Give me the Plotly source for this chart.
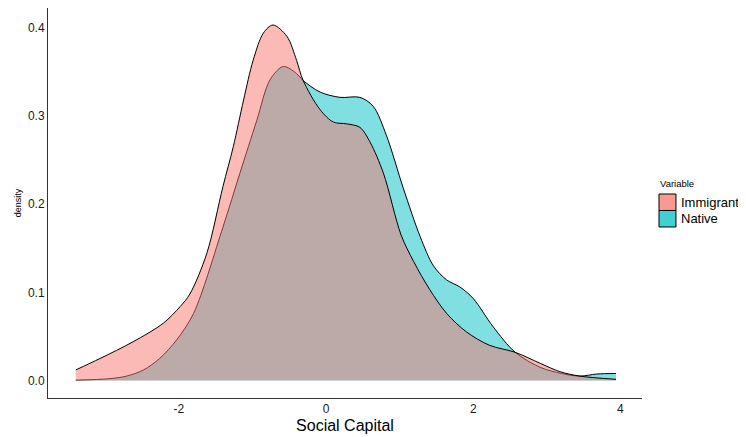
import plotly.graph_objects as go

# Density curves (Social Capital vs density)
imm_x = [-3.40, -3.07, -2.62, -2.21, -1.98, -1.85, -1.62, -1.40, -1.26, -1.12, -0.99,
         -0.85, -0.72, -0.53, -0.40, -0.31, -0.08, 0.10, 0.28, 0.46, 0.60, 0.78, 1.02,
         1.19, 1.41, 1.64, 1.91, 2.22, 2.57, 2.91, 3.18, 3.45, 3.94]
imm_y = [0.012, 0.025, 0.044, 0.065, 0.084, 0.098, 0.144, 0.220, 0.265, 0.318, 0.363,
         0.394, 0.403, 0.390, 0.363, 0.340, 0.307, 0.293, 0.291, 0.287, 0.270, 0.235, 0.165,
         0.135, 0.103, 0.076, 0.055, 0.040, 0.032, 0.0195, 0.010, 0.005, 0.0014]

nat_x = [-3.40, -2.95, -2.71, -2.48, -2.26, -2.03, -1.80, -1.40, -1.17, -0.94, -0.76,
         -0.58, -0.40, -0.31, -0.08, 0.19, 0.46, 0.64, 0.82, 1.05, 1.28, 1.46, 1.64,
         1.82, 2.00, 2.27, 2.57, 2.91, 3.20, 3.45, 3.68, 3.94]
nat_y = [0.0005, 0.002, 0.005, 0.012, 0.025, 0.046, 0.076, 0.174, 0.235, 0.295, 0.341,
         0.356, 0.348, 0.340, 0.327, 0.321, 0.321, 0.311, 0.278, 0.218, 0.163, 0.130, 0.114,
         0.106, 0.093, 0.061, 0.032, 0.015, 0.008, 0.005, 0.0074, 0.008]

x_ticks = [-2, 0, 2, 4]
y_ticks = [0.0, 0.1, 0.2, 0.3, 0.4]
y_tick_labels = ["0.0", "0.1", "0.2", "0.3", "0.4"]

legend_title = "Variable"
groups = ["Immigrant", "Native"]
fill_colors = {"Immigrant": "rgba(248,118,109,0.5)", "Native": "rgba(0,191,196,0.5)"}
key_colors = {"Immigrant": "rgba(248,118,109,0.75)", "Native": "rgba(0,191,196,0.75)"}
series = {"Immigrant": (imm_x, imm_y), "Native": (nat_x, nat_y)}

fig = go.Figure()

# Native drawn first, Immigrant on top
for g in ["Native", "Immigrant"]:
    xs, ys = series[g]
    fig.add_trace(go.Scatter(x=xs, y=ys, mode="lines", fill="tozeroy", name=g,
                             fillcolor=fill_colors[g],
                             line=dict(color="black", width=1, shape="spline", smoothing=0.9),
                             showlegend=False, hoverinfo="skip"))

# ggplot-style legend (keys stacked edge to edge), placed in the right margin
key_x0, key_x1 = 1.0286, 1.0572
key_top = 0.5231
key_h = 0.0423
shapes = []
annotations = [dict(text=legend_title, xref="paper", yref="paper", x=1.0286, y=0.550,
                    xanchor="left", yanchor="middle", showarrow=False, borderpad=0,
                    font=dict(size=9.5, color="black"))]
for i, g in enumerate(groups):
    top = key_top - i * key_h
    shapes.append(dict(type="rect", xref="paper", yref="paper", x0=key_x0, x1=key_x1,
                       y0=top - key_h, y1=top, fillcolor=key_colors[g],
                       line=dict(color="black", width=1)))
    annotations.append(dict(text=g, xref="paper", yref="paper", x=1.0640, y=top - key_h / 2,
                            xanchor="left", yanchor="middle", showarrow=False, borderpad=0,
                            font=dict(size=13, color="black")))

# page has an 8px body margin, so the figure is sized to fit inside the window
fig.update_layout(
    width=738, height=429,
    margin=dict(l=40, r=104, t=0, b=39, autoexpand=False),
    paper_bgcolor="white", plot_bgcolor="white",
    font=dict(family="Liberation Sans, Arial, sans-serif", color="#1a1a1a"),
    showlegend=False,
    shapes=shapes, annotations=annotations,
    xaxis=dict(range=[-3.777, 4.293], tickvals=x_ticks, ticktext=[str(v) for v in x_ticks],
               showgrid=False, zeroline=False, showline=True, linecolor="#333", linewidth=1,
               ticks="", tickfont=dict(size=12, color="#1a1a1a"), automargin=False,
               title=dict(text="Social Capital", font=dict(size=16, color="black"), standoff=4)),
    yaxis=dict(range=[-0.0198, 0.4223], tickvals=y_ticks, ticktext=y_tick_labels,
               showgrid=False, zeroline=False, showline=True, linecolor="#333", linewidth=1,
               ticks="", tickfont=dict(size=12, color="#1a1a1a"), automargin=False,
               title=dict(text="density", font=dict(size=9, color="black"), standoff=4)),
)

fig.write_html("out.html")
